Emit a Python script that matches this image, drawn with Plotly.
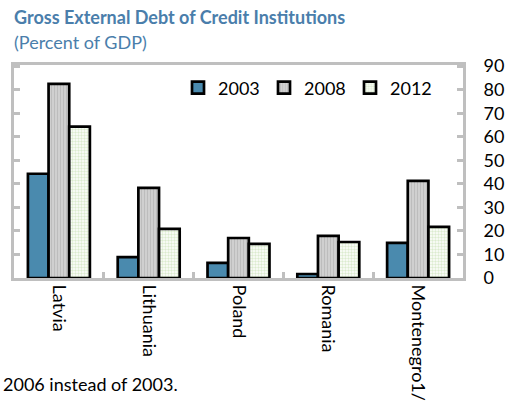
import plotly.graph_objects as go

countries = ["Latvia", "Lithuania", "Poland", "Romania", "Montenegro1/"]
years = ["2003", "2008", "2012"]
debt_2003 = [44.3, 8.9, 6.4, 1.7, 14.9]
debt_2008 = [82.5, 38.3, 17.0, 17.9, 41.3]
debt_2012 = [64.3, 20.9, 14.5, 15.3, 21.7]
y_ticks = [0, 10, 20, 30, 40, 50, 60, 70, 80, 90]

FONT = "Lato"
styles = {
    "2003": dict(color="#4A8AAE"),
    "2008": dict(color="#C4C4C4", pattern=dict(shape="|", fgcolor="#A8A8A8", bgcolor="#D2D2D2", size=3, solidity=0.4)),
    "2012": dict(color="#E8F2D8", pattern=dict(shape=".", fgcolor="#B8D8A0", bgcolor="#FFFFFF", size=3, solidity=0.5)),
}

fig = go.Figure()
for yr, vals in zip(years, [debt_2003, debt_2008, debt_2012]):
    fig.add_trace(go.Bar(
        x=countries, y=vals, name=yr,
        marker=dict(**styles[yr], line=dict(color="black", width=2.7)),
    ))

W, H = 507, 418
L, R, T, B = 14, 44, 65, 140
grey = "#BFBFBF"


def px(xp, yp):
    """Pixel position on the page -> paper coordinates."""
    pw, ph = W - L - R, H - T - B
    return (xp - L) / pw, (H - B - yp) / ph


lx, ly = px(178, 88)
fig.update_layout(
    width=W, height=H,
    margin=dict(l=L, r=R, t=T, b=B, autoexpand=False),
    paper_bgcolor="white", plot_bgcolor="white",
    barmode="group", bargap=0.31, bargroupgap=0,
    font=dict(family=FONT, size=18, color="black"),
    showlegend=True,
    legend=dict(orientation="h", x=lx, y=ly, xanchor="left", yanchor="middle",
                font=dict(size=18, family=FONT), entrywidth=41, entrywidthmode="pixels",
                itemwidth=30, bgcolor="rgba(0,0,0,0)", itemclick=False),
    xaxis=dict(showline=True, linecolor=grey, linewidth=3, mirror=True,
               ticks="inside", tickson="boundaries", ticklen=6, tickcolor=grey, tickwidth=3,
               tickangle=90, tickfont=dict(size=18), automargin=False, fixedrange=True),
    yaxis=dict(range=[0, 90.5], side="right", tickvals=y_ticks,
               showline=True, linecolor=grey, linewidth=3, mirror="ticks",
               ticks="inside", ticklen=6, tickcolor=grey, tickwidth=3,
               showgrid=False, zeroline=False, tickfont=dict(size=18),
               ticklabelstandoff=14, automargin=False, fixedrange=True),
)

ann = []
for text, xp, yp, size, color in [
    ("<b>Gross External Debt of Credit Institutions</b>", 12, 17, 18, "#4A7EAB"),
    ("(Percent of GDP)", 12, 42, 18, "#4A7EAB"),
    ("2006 instead of 2003.", 1, 384, 18, "black"),
]:
    ax, ay = px(xp, yp)
    ann.append(dict(text=text, x=ax, y=ay, xref="paper", yref="paper",
                    xanchor="left", yanchor="middle", showarrow=False,
                    font=dict(size=size, color=color, family=FONT)))
fig.update_layout(annotations=ann)

fig.write_html("out.html")
